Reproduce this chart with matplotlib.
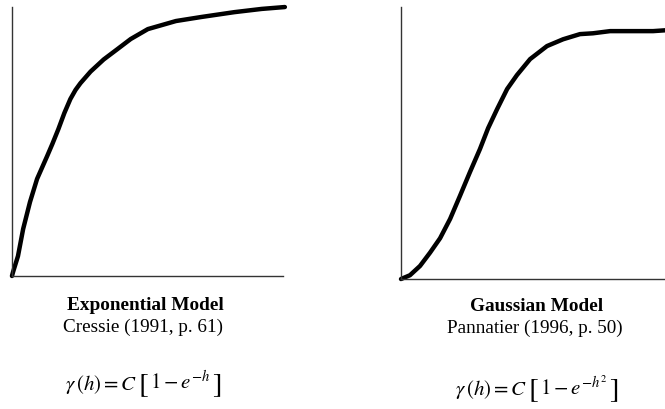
import matplotlib
matplotlib.use("Agg")
import matplotlib.pyplot as plt

plt.rcParams['font.family'] = ['Liberation Serif', 'DejaVu Serif']
plt.rcParams['mathtext.fontset'] = 'stix'

# semivariogram shapes, lag and gamma scaled to the plot box
exp_lag = [0.0, 0.004, 0.022, 0.041, 0.066, 0.092, 0.129, 0.148, 0.170,
           0.192, 0.214, 0.233, 0.251, 0.288, 0.336, 0.387, 0.435, 0.498,
           0.601, 0.694, 0.815, 0.915, 1.0]
exp_gamma = [0.0, 0.015, 0.074, 0.175, 0.275, 0.361, 0.446, 0.491, 0.546,
             0.606, 0.658, 0.692, 0.717, 0.760, 0.805, 0.844, 0.881, 0.918,
             0.948, 0.963, 0.981, 0.993, 1.0]

gau_lag = [0.0, 0.034, 0.072, 0.110, 0.148, 0.186, 0.223, 0.261, 0.299,
           0.330, 0.364, 0.402, 0.439, 0.489, 0.553, 0.614, 0.678, 0.727,
           0.792, 0.955, 1.0]
gau_gamma = [0.0, 0.014, 0.048, 0.097, 0.150, 0.221, 0.305, 0.393, 0.478,
             0.555, 0.625, 0.699, 0.750, 0.809, 0.857, 0.882, 0.901, 0.904,
             0.912, 0.912, 0.915]

titles = ["Exponential Model", "Gaussian Model"]
sources = ["Cressie (1991, p. 61)", "Pannatier (1996, p. 50)"]
exponents = [r"$1 - e^{-h}$", r"$1 - e^{-h^{2}}$"]

fig = plt.figure(figsize=(6.65, 4.10), dpi=100)

ax1 = fig.add_axes([0.018, 0.3244, 0.4075, 0.656])
ax2 = fig.add_axes([0.603, 0.317, 0.397, 0.663])

for ax, x, y, xmax in [(ax1, exp_lag, exp_gamma, 0.993),
                       (ax2, gau_lag, gau_gamma, 1.0)]:
    ax.plot(x, y, color='black', lw=3.2, solid_joinstyle='round',
            solid_capstyle='round', clip_on=False)
    ax.set_xlim(0, xmax)
    ax.set_ylim(0, 1)
    ax.spines['top'].set_visible(False)
    ax.spines['right'].set_visible(False)
    for s in ('left', 'bottom'):
        ax.spines[s].set_color('#333333')
        ax.spines[s].set_linewidth(1.0)
    ax.set_xticks([])
    ax.set_yticks([])


def formula(x, y, inner):
    # gamma(h) = C [ ... ] with tall brackets, pieces chained left to right
    t = fig.text(x, y, r"$\gamma\,(h) = C$", fontsize=15,
                 ha='left', va='center')
    b1 = ax1.annotate(r"$[$", xy=(1, 0.5), xycoords=t, xytext=(0.5, -1),
                      textcoords='offset points', fontsize=21,
                      ha='left', va='center')
    m = ax1.annotate(inner, xy=(1, 0.5), xycoords=b1, xytext=(1, 2),
                     textcoords='offset points', fontsize=15,
                     ha='left', va='center')
    ax1.annotate(r"$]$", xy=(1, 0.5), xycoords=m, xytext=(1.5, -2),
                 textcoords='offset points', fontsize=21,
                 ha='left', va='center')


fig.text(0.218, 0.255, titles[0], ha='center', va='center',
         fontsize=13.9, fontweight='bold')
fig.text(0.215, 0.202, sources[0], ha='center', va='center', fontsize=13.8)
formula(65 / 665, 0.062, exponents[0])

fig.text(0.8075, 0.252, titles[1], ha='center', va='center',
         fontsize=13.9, fontweight='bold')
fig.text(0.8045, 0.200, sources[1], ha='center', va='center', fontsize=13.8)
formula(455 / 665, 0.050, exponents[1])

fig.savefig("out.png", dpi=100)
